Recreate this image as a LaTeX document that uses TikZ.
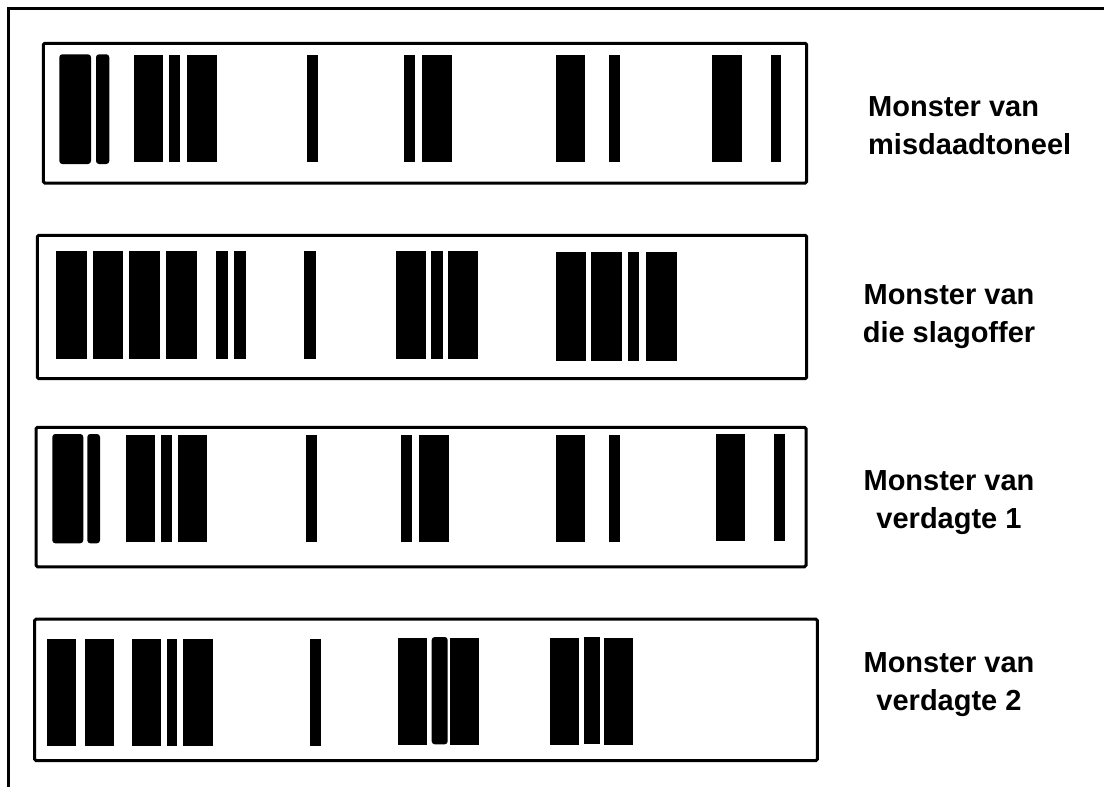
\documentclass[tikz,border=0pt]{standalone}
\usepackage{fontspec}
\setmainfont{Liberation Sans}
\begin{document}
\begin{tikzpicture}[x=1pt,y=-1pt,
  frame/.style={line width=3pt},
  gelbox/.style={line width=3pt,rounded corners=1.5pt},
  band/.style={fill=black},
  rband/.style={fill=black,rounded corners=3pt},
  lbl/.style={align=center,font=\bfseries\fontsize{29}{38}\selectfont,inner sep=0pt}]
\useasboundingbox (0,0) rectangle (1104,787);
% outer frame (top and left only)
\draw[frame] (1104,8.5) -- (8.5,8.5) -- (8.5,787);
% boxes
\draw[gelbox] (43.3,43.3) rectangle (806.7,183);
\draw[gelbox] (37.3,235.3) rectangle (806.7,378.7);
\draw[gelbox] (36,427.3) rectangle (806,566.8);
\draw[gelbox] (34.7,619) rectangle (817.3,760.7);
% row 1
\foreach \a/\b in {59.3/91,96/109.3} \fill[rband] (\a,54.3) rectangle (\b,164);
\foreach \a/\b in {134/163.3,169/180,187.3/216.7,307.3/318,404/415,422.3/451.7,555.7/585,609/619.7,712.3/741.7,770.7/781.3}
  \fill[band] (\a,55.3) rectangle (\b,162.3);
% row 2
\foreach \a/\b in {56/86.7,92.7/123.3,129.3/160,166/196.7,216/228,234.3/245.7,304.3/316,396/426,431/442.7,447.7/478.3}
  \fill[band] (\a,251) rectangle (\b,359.3);
\foreach \a/\b in {556/586,591/621.7,627.7/639.3,646/676.7}
  \fill[band] (\a,252.3) rectangle (\b,360.7);
% row 3
\foreach \a/\b in {52.3/83.3,87.3/100} \fill[rband] (\a,434) rectangle (\b,543.3);
\foreach \a/\b in {126/155.3,161/171.7,177.7/206.7,306/316.7,401/411.7,419.3/448.7,556/585.3,609.3/620}
  \fill[band] (\a,435) rectangle (\b,542.3);
\foreach \a/\b in {716/745.3,774.3/785}
  \fill[band] (\a,433.7) rectangle (\b,541);
% row 4
\foreach \a/\b in {46.7/76,85/114.3,131.7/161,166.7/177.3,183.3/212.7,310/320.7}
  \fill[band] (\a,639) rectangle (\b,746.3);
\foreach \a/\b in {398.3/427.3,450/479.3,550/579.3,603.7/633}
  \fill[band] (\a,637.7) rectangle (\b,745);
\fill[rband] (431.7,637) rectangle (447.7,744.3);
\fill[band] (583.7,637) rectangle (599.7,744);
% labels
\node[lbl,align=left,anchor=west] (l1) at (868,126) {Monster van\\misdaadtoneel};
\node[lbl] (l2) at (949,316.5) {Monster van\\die slagoffer};
\node[lbl] (l3) at (949,502.5) {Monster van\\verdagte 1};
\node[lbl] (l4) at (949,684.5) {Monster van\\verdagte 2};
\end{tikzpicture}
\end{document}
